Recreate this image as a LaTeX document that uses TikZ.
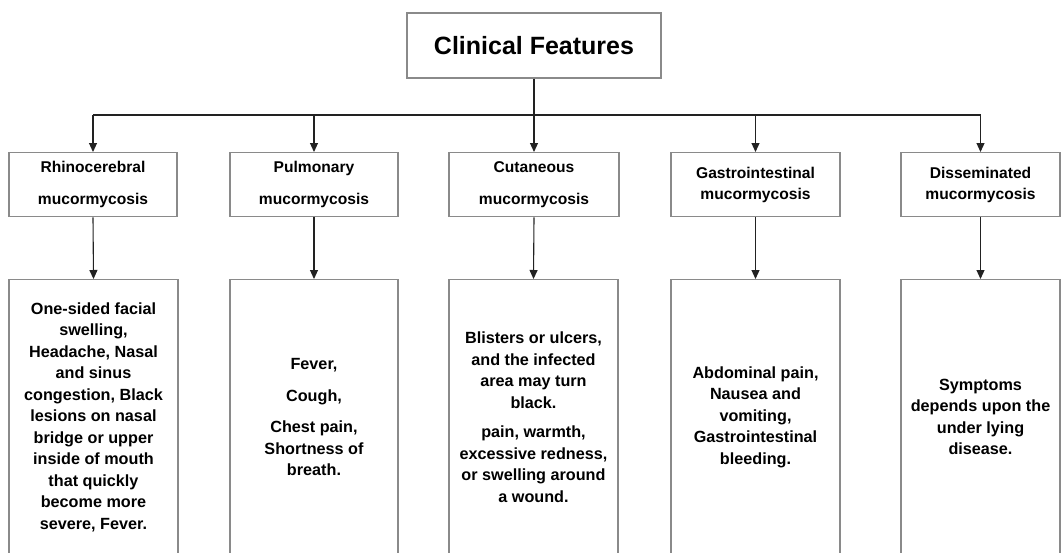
\documentclass[tikz,border=0pt]{standalone}
\usepackage{fontspec}
\setmainfont{Liberation Sans}
\usetikzlibrary{arrows.meta}
\definecolor{boxgray}{HTML}{8A8A8A}
\definecolor{linec}{HTML}{222222}
\begin{document}
\begin{tikzpicture}[x=1pt,y=-1pt,
  box/.style={draw=boxgray, line width=1.4pt, fill=white, inner sep=0pt},
  titlebox/.style={box, minimum width=254pt, minimum height=65pt, font=\fontsize{25}{30}\selectfont\bfseries},
  midbox/.style={box, anchor=north, minimum height=64pt, align=center, font=\fontsize{15.6}{21}\selectfont\bfseries},
  leafbox/.style={box, anchor=north, minimum height=300pt},
  leaftext/.style={align=center, font=\fontsize{16.2}{21.5}\selectfont\bfseries, inner sep=0pt},
  arr/.style={draw=linec, line width=1.1pt, -{Triangle[length=9pt,width=8pt]}},
  conn/.style={draw=linec, line width=1.1pt}]
\useasboundingbox (0,0) rectangle (1063,552);
\clip (0,0) rectangle (1063,552);

% title
\node[titlebox] (title) at (534,45.5) {Clinical Features};
\coordinate (j) at (534,115);

% second level
\node[midbox, minimum width=168pt] (m1) at (93,152) {Rhinocerebral\\[11pt]mucormycosis};
\node[midbox, minimum width=168pt] (m2) at (314,152) {Pulmonary\\[11pt]mucormycosis};
\node[midbox, minimum width=170pt] (m3) at (534,152) {Cutaneous\\[11pt]mucormycosis};
\node[midbox, minimum width=169pt] (m4) at (755.5,152) {Gastrointestinal\\mucormycosis};
\node[midbox, minimum width=159pt] (m5) at (980.5,152) {Disseminated\\mucormycosis};

% leaf boxes
\node[leafbox, minimum width=169pt] (l1) at (93.5,279) {};
\node[leafbox, minimum width=168pt] (l2) at (314,279) {};
\node[leafbox, minimum width=169pt] (l3) at (533.5,279) {};
\node[leafbox, minimum width=169pt] (l4) at (755.5,279) {};
\node[leafbox, minimum width=159pt] (l5) at (980.5,279) {};

% leaf texts
\node[leaftext, yshift=-138pt] (t1) at (l1.north) {One-sided facial\\swelling,\\Headache, Nasal\\and sinus\\congestion, Black\\lesions on nasal\\bridge or upper\\inside of mouth\\that quickly\\become more\\severe, Fever.};
\node[leaftext, yshift=-138pt] (t2) at (l2.north) {Fever,\\[10pt]Cough,\\[10pt]Chest pain,\\Shortness of\\breath.};
\node[leaftext, yshift=-138pt] (t3) at (l3.north) {Blisters or ulcers,\\and the infected\\area may turn\\black.\\[8pt]pain, warmth,\\excessive redness,\\or swelling around\\a wound.};
\node[leaftext, yshift=-138pt] (t4) at (l4.north) {Abdominal pain,\\Nausea and\\vomiting,\\Gastrointestinal\\bleeding.};
\node[leaftext, yshift=-138pt] (t5) at (l5.north) {Symptoms\\depends upon the\\under lying\\disease.};

% connectors
\draw[conn] (title.south) -- (j);
\draw[conn] (m1.north |- j) -- (m5.north |- j);
\foreach \i in {1,...,5} {
  \draw[arr] (m\i.north |- j) -- (m\i.north);
  \draw[arr] (m\i.south) -- (l\i.north);
}
\end{tikzpicture}
\end{document}
